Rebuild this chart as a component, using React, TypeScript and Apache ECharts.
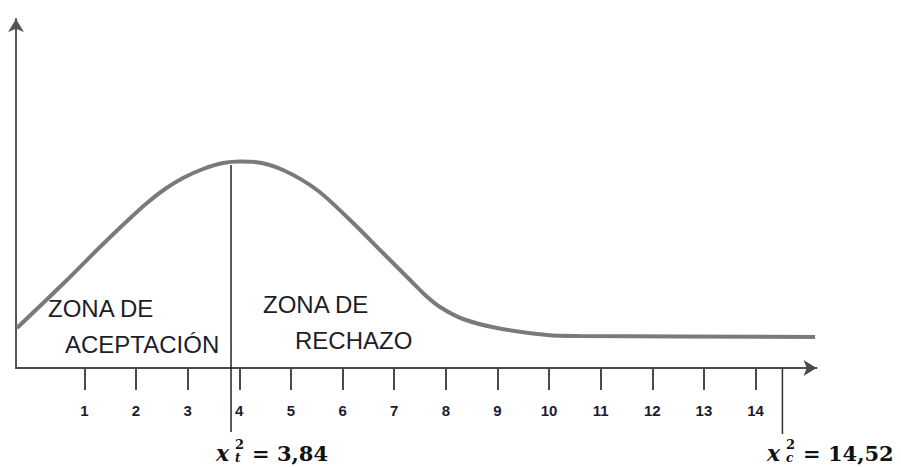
import React, { useEffect, useRef } from "react";
import * as echarts from "echarts";

// Curve (x in chi-square units, y in arbitrary density units)
const curveX = [-0.306, 0.663, 1.302, 1.786, 2.212, 2.561, 2.91, 3.298, 3.686, 4.016, 4.305, 4.847, 5.506, 6.145, 6.784, 7.307, 7.598, 7.888, 8.334, 8.992, 9.961, 10.6, 15.153];
const curveY = [0.04, 0.088, 0.121, 0.145, 0.165, 0.179, 0.19, 0.199, 0.205, 0.2065, 0.206, 0.198, 0.178, 0.148, 0.115, 0.088, 0.073, 0.061, 0.049, 0.04, 0.033, 0.032, 0.031];

const tickValues = [1, 2, 3, 4, 5, 6, 7, 8, 9, 10, 11, 12, 13, 14];

const chiTabla = 3.84; // x_t^2
const chiCalc = 14.52; // x_c^2
const lineTablaY = [0.203, -0.064];
const lineCalcY = [0, -0.066];

const zoneTexts = [
  { text: "ZONA DE", left: 48, cy: 308 },
  { text: "ACEPTACIÓN", left: 65, cy: 344 },
  { text: "ZONA DE", left: 263, cy: 304 },
  { text: "RECHAZO", left: 295, cy: 340 },
];

function formula(left: number, sub: string, value: string, cy: number) {
  const serif = "DejaVu Serif";
  return {
    type: "group",
    children: [
      {
        type: "text",
        x: left,
        y: cy,
        style: { text: "x", font: `italic bold 22px "${serif}"`, fill: "#111", verticalAlign: "middle", align: "left" },
      },
      {
        type: "text",
        x: left + 19,
        y: cy - 9,
        style: { text: "2", font: `bold 13px "${serif}"`, fill: "#111", verticalAlign: "middle", align: "left" },
      },
      {
        type: "text",
        x: left + 19,
        y: cy + 5,
        style: { text: sub, font: `italic bold 12px "${serif}"`, fill: "#111", verticalAlign: "middle", align: "left" },
      },
      {
        type: "text",
        x: left + 36,
        y: cy,
        style: { text: "= " + value, font: `bold 21px "${serif}"`, fill: "#111", verticalAlign: "middle", align: "left" },
      },
    ],
  };
}

export default function App() {
  const ref = useRef<HTMLDivElement>(null);
  useEffect(() => {
    if (!ref.current) return;
    const chart = echarts.init(ref.current, undefined, { renderer: "svg" });
    const option = {
      animation: false,
      backgroundColor: "#ffffff",
      grid: { left: 16, right: 84.5, top: 19, bottom: 99 },
      xAxis: {
        type: "value",
        min: -0.325,
        max: 15.18,
        axisLine: {
          show: true,
          onZero: false,
          symbol: ["none", "arrow"],
          symbolSize: [12, 13],
          lineStyle: { color: "#4a4a4a", width: 2 },
        },
        axisTick: {
          show: true,
          inside: false,
          length: 22,
          customValues: tickValues,
          lineStyle: { color: "#4a4a4a", width: 2 },
        },
        axisLabel: {
          show: true,
          customValues: tickValues,
          margin: 35,
          fontFamily: "Liberation Sans",
          fontWeight: "bold",
          fontSize: 15,
          color: "#1c1c30",
        },
        splitLine: { show: false },
      },
      yAxis: {
        type: "value",
        min: 0,
        max: 0.349,
        axisLine: {
          show: true,
          onZero: false,
          symbol: ["none", "arrow"],
          symbolSize: [12, 13],
          lineStyle: { color: "#555", width: 2 },
        },
        axisTick: { show: false },
        axisLabel: { show: false },
        splitLine: { show: false },
      },
      series: [
        {
          type: "line",
          data: curveX.map((x, i) => [x, curveY[i]]),
          smooth: 0.3,
          symbol: "none",
          lineStyle: { color: "#7a7a7a", width: 4 },
        },
        {
          type: "line",
          data: lineTablaY.map((y) => [chiTabla, y]),
          symbol: "none",
          clip: false,
          lineStyle: { color: "#222", width: 1.5 },
        },
        {
          type: "line",
          data: lineCalcY.map((y) => [chiCalc, y]),
          symbol: "none",
          clip: false,
          lineStyle: { color: "#333", width: 1.5 },
        },
      ],
      graphic: [
        ...zoneTexts.map((z) => ({
          type: "text",
          x: z.left,
          y: z.cy,
          style: {
            text: z.text,
            font: '24px "Liberation Sans"',
            fill: "#1e1e2a",
            verticalAlign: "middle",
            align: "left",
          },
        })),
        formula(216, "t", "3,84", 453),
        formula(767, "c", "14,52", 453),
      ],
    };
    chart.setOption(option as any);
    return () => chart.dispose();
  }, []);
  return (
    <div
      ref={ref}
      style={{ position: "fixed", left: 0, top: 0, width: 901, height: 467 }}
    />
  );
}
